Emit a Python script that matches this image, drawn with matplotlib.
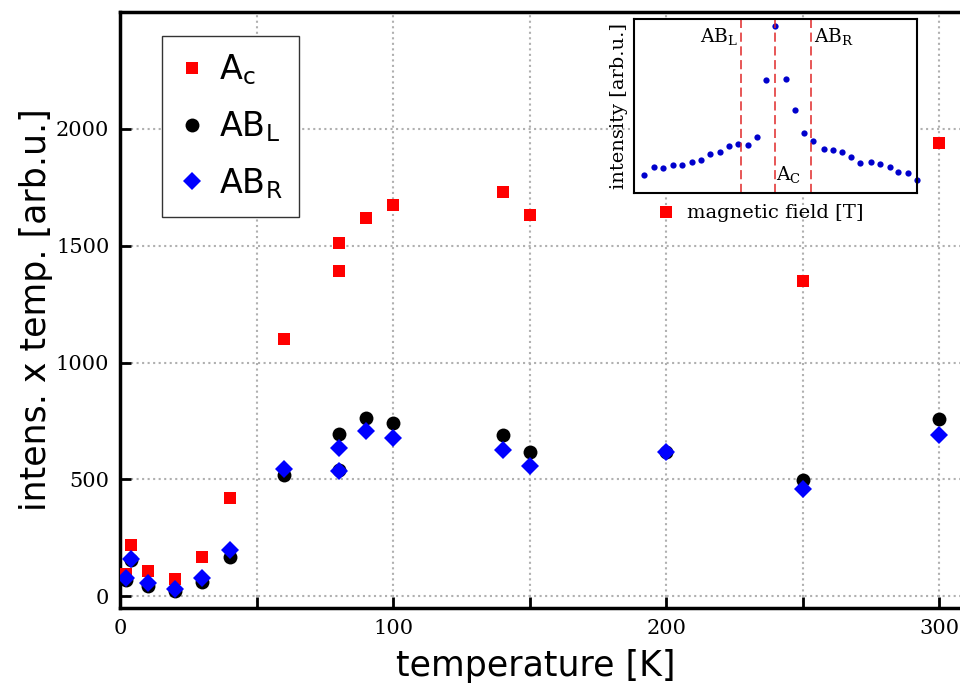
import numpy as np
import matplotlib.pyplot as plt

plt.rcParams['mathtext.default'] = 'regular'

# main data: temperature [K] vs intens. x temp.
T_ac = [2, 4, 10, 20, 30, 40, 60, 80, 80, 90, 100, 140, 150, 200, 250, 300]
I_ac = [96, 220, 109, 75, 168, 421, 1101, 1391, 1513, 1618, 1675, 1731, 1632, 1643, 1348, 1940]

T_abl = [2, 4, 10, 20, 30, 40, 60, 80, 80, 90, 100, 140, 150, 200, 250, 300]
I_abl = [70, 155, 46, 21, 63, 168, 520, 695, 540, 763, 741, 688, 617, 619, 498, 759]

T_abr = [2, 4, 10, 20, 30, 40, 60, 80, 80, 90, 100, 140, 150, 200, 250, 300]
I_abr = [78, 160, 58, 32, 78, 199, 544, 634, 538, 707, 679, 624, 559, 619, 460, 691]

# inset: spectrum (arbitrary field units)
field = [1.1, 2.1, 3.1, 4.1, 5.1, 6.1, 7.1, 8.1, 9.1, 10.1, 11.0, 12.1, 13.0, 14.0, 15.0,
         16.1, 17.1, 18.0, 19.0, 20.1, 21.1, 22.1, 23.0, 24.0, 25.1, 26.1, 27.1, 28.0, 29.0, 30.0]
intens = [53, 78, 75, 84, 84, 94, 100, 116, 123, 140, 148, 143, 168, 340, 501,
          344, 248, 181, 155, 133, 129, 123, 108, 91, 94, 88, 79, 62, 59, 40]
peak_pos = [11.3, 15.0, 18.8]  # AB_L, A_C, AB_R


def plot():
    fig = plt.figure(figsize=(9.6, 6.88), dpi=100)
    ax = fig.add_axes([0.1255, 0.1163, 0.91, 0.8663])

    ax.plot(T_ac, I_ac, 's', color='r', ms=8.5, mew=0, label='A$_c$', zorder=3)
    ax.plot(T_abl, I_abl, 'o', color='k', ms=10, mew=0, label='AB$_L$', zorder=3)
    ax.plot(T_abr, I_abr, 'D', color='b', ms=9.5, mew=0, label='AB$_R$', zorder=3)

    ax.set_xticks(np.arange(0, 351, 50))
    ax.set_xticklabels(['0', '', '100', '', '200', '', '300', ''])
    ax.set_yticks([0, 500, 1000, 1500, 2000])
    ax.set_xlim(0, 320)  # after set_xticks, else it grows to 350
    ax.set_ylim(-50, 2500)
    ax.grid(True, ls=':', color='#b0b0b0', lw=1.5)
    ax.set_axisbelow(True)
    ax.tick_params(direction='in', length=8, width=2, labelsize=15, pad=8)
    for lab in ax.get_xticklabels() + ax.get_yticklabels():
        lab.set_fontfamily('DejaVu Serif')
    for s in ax.spines.values():
        s.set_linewidth(2.5)

    ax.set_xlabel('temperature [K]', fontsize=25)
    ax.xaxis.set_label_coords(0.475, -0.068)
    ax.set_ylabel('intens. x temp. [arb.u.]', fontsize=25, labelpad=2)

    leg = ax.legend(loc='upper left', bbox_to_anchor=(0.0475, 0.96), borderaxespad=0,
                    fontsize=24, numpoints=1, fancybox=False, edgecolor='#333333',
                    framealpha=1, handlelength=0.8, handletextpad=0.4,
                    labelspacing=0.66, borderpad=0.5)
    leg.get_frame().set_linewidth(1)

    # inset
    ax2 = fig.add_axes([0.6604, 0.7195, 0.2948, 0.2529])
    ax2.plot(field, intens, 'o', color='#0000cc', ms=4.5, mew=0, clip_on=False)
    for p in peak_pos:
        ax2.axvline(p, color='#e02828', ls=(0, (6, 3)), lw=1.1)
    ax2.set_xlim(0, 30)
    ax2.set_ylim(0, 523)
    ax2.set_xticks([])
    ax2.set_yticks([])
    for s in ax2.spines.values():
        s.set_linewidth(1.5)
    ax2.set_xlabel('magnetic field [T]', fontsize=14, family='DejaVu Serif', labelpad=8)
    ax2.set_ylabel('intensity [arb.u.]', fontsize=14, family='DejaVu Serif', labelpad=4)
    ax2.text(peak_pos[0] - 0.3, 470, 'AB$_L$', fontsize=13.5, family='DejaVu Serif', ha='right', va='center')
    ax2.text(peak_pos[1] + 0.05, 55, 'A$_C$', fontsize=13.5, family='DejaVu Serif', ha='left', va='center')
    ax2.text(peak_pos[2] + 0.3, 470, 'AB$_R$', fontsize=13.5, family='DejaVu Serif', ha='left', va='center')

    fig.savefig('out.png', dpi=100)
    return

plot()
